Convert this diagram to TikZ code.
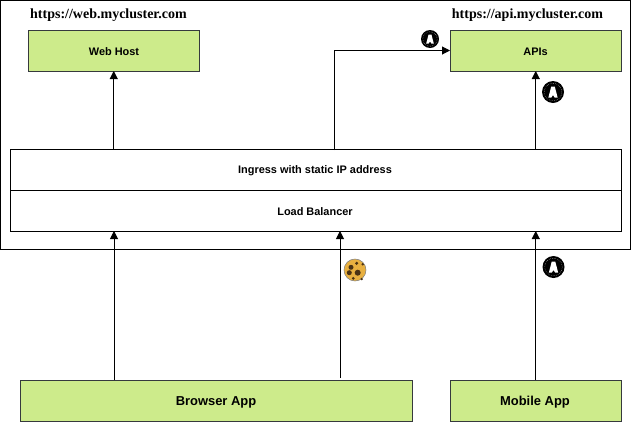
\documentclass[tikz,border=0pt]{standalone}
\usepackage{fontspec}
\setmainfont{Liberation Sans}
\newfontfamily\serifbf{Liberation Serif}
\usetikzlibrary{arrows.meta}
\definecolor{boxgreen}{HTML}{CDEB8B}
\definecolor{boxedge}{HTML}{36393D}
\definecolor{cookie}{HTML}{E8B040}
\definecolor{spot}{HTML}{4A3214}
\tikzset{
  x=0.75pt,y=-0.75pt,
  pxbox/.style={inner sep=0pt,outer sep=0pt,anchor=north west},
  greenbox/.style={pxbox,draw=boxedge,fill=boxgreen,line width=0.75pt},
  smalltext/.style={font=\bfseries\fontsize{8.2}{10}\selectfont},
  largetext/.style={font=\bfseries\fontsize{9.7}{12}\selectfont},
  whitebox/.style={pxbox,draw=black,fill=white,line width=0.75pt},
  lbl/.style={inner sep=0pt},
  urltext/.style={font=\serifbf\bfseries\fontsize{10.5}{12}\selectfont,inner sep=0pt},
  conn/.style={draw=black,line width=0.75pt,-{Triangle[length=6pt,width=6pt]}},
  badge/.pic={
    \fill[black] (0,0) circle[radius=#1];
    \draw[white,line width=0.3pt,densely dotted] (0,0) circle[radius=0.8*#1];
    \fill[black] (0,0) circle[radius=0.72*#1];
    \fill[white] (-0.42*#1,0.5*#1) -- (-0.16*#1,-0.5*#1) -- (0.16*#1,-0.5*#1) -- (0.42*#1,0.5*#1) -- (0.15*#1,0.5*#1) -- (0,0.28*#1) -- (-0.15*#1,0.5*#1) -- cycle;
  }
}
\begin{document}
\begin{tikzpicture}
\useasboundingbox (0,0) rectangle (631,422);
\node[pxbox,draw=black,line width=0.75pt,minimum width=630*0.75pt,minimum height=248.5*0.75pt] (cluster) at (0.5,0.5) {};
\node[whitebox,minimum width=611*0.75pt,minimum height=40.5*0.75pt] (ingress) at (10,149.5) {};
\node[whitebox,minimum width=611*0.75pt,minimum height=41*0.75pt] (lb) at (10,190) {};
\node[greenbox,minimum width=171.5*0.75pt,minimum height=41*0.75pt] (web) at (28,30) {};
\node[greenbox,minimum width=171.5*0.75pt,minimum height=41*0.75pt] (apis) at (450,30) {};
\node[greenbox,minimum width=392.5*0.75pt,minimum height=41*0.75pt] (browser) at (20,380) {};
\node[greenbox,minimum width=171*0.75pt,minimum height=41*0.75pt] (mobile) at (450,380) {};
\node[lbl,smalltext] (ingresstext) at (315,170.5) {Ingress with static IP address};
\node[lbl,smalltext] (lbtext) at (315,211.5) {Load Balancer};
\node[lbl,smalltext] (webtext) at (114,51.5) {Web Host};
\node[lbl,smalltext] (apistext) at (535.5,51.5) {APIs};
\node[lbl,largetext] (browsertext) at (216,402) {Browser App};
\node[lbl,largetext] (mobiletext) at (535,402) {Mobile App};
\node[urltext] (weburl) at (108.5,15) {https://web.mycluster.com};
\node[urltext] (apiurl) at (527.5,15) {https://api.mycluster.com};
\coordinate (ingressMid) at (334,150);
\coordinate (bA) at (114,380);
\coordinate (bB) at (340,378);
\draw[conn] (web.south |- ingress.north) -- (web.south);
\draw[conn] (apis.south |- ingress.north) -- (apis.south);
\draw[conn] (ingressMid) |- (apis.west);
\draw[conn] (bA) -- (bA |- lb.south);
\draw[conn] (bB) -- (bB |- lb.south);
\draw[conn] (apis.south |- mobile.north) -- (apis.south |- lb.south);
\pic at (430,39) {badge=9};
\pic at (553,92) {badge=11};
\pic at (553.5,267) {badge=11};
\fill[cookie,draw=gray,line width=0.4pt] (355,270) circle[radius=11];
\foreach \a/\b/\r in {351/267.3/2.5,356.7/263.3/1.7,362.7/264.3/1.3,349.3/272.7/2.5,357.7/272.7/3,353.3/278.3/1.5,361.7/279/1.3}
  \fill[spot] (\a,\b) circle[radius=\r];
\end{tikzpicture}
\end{document}
